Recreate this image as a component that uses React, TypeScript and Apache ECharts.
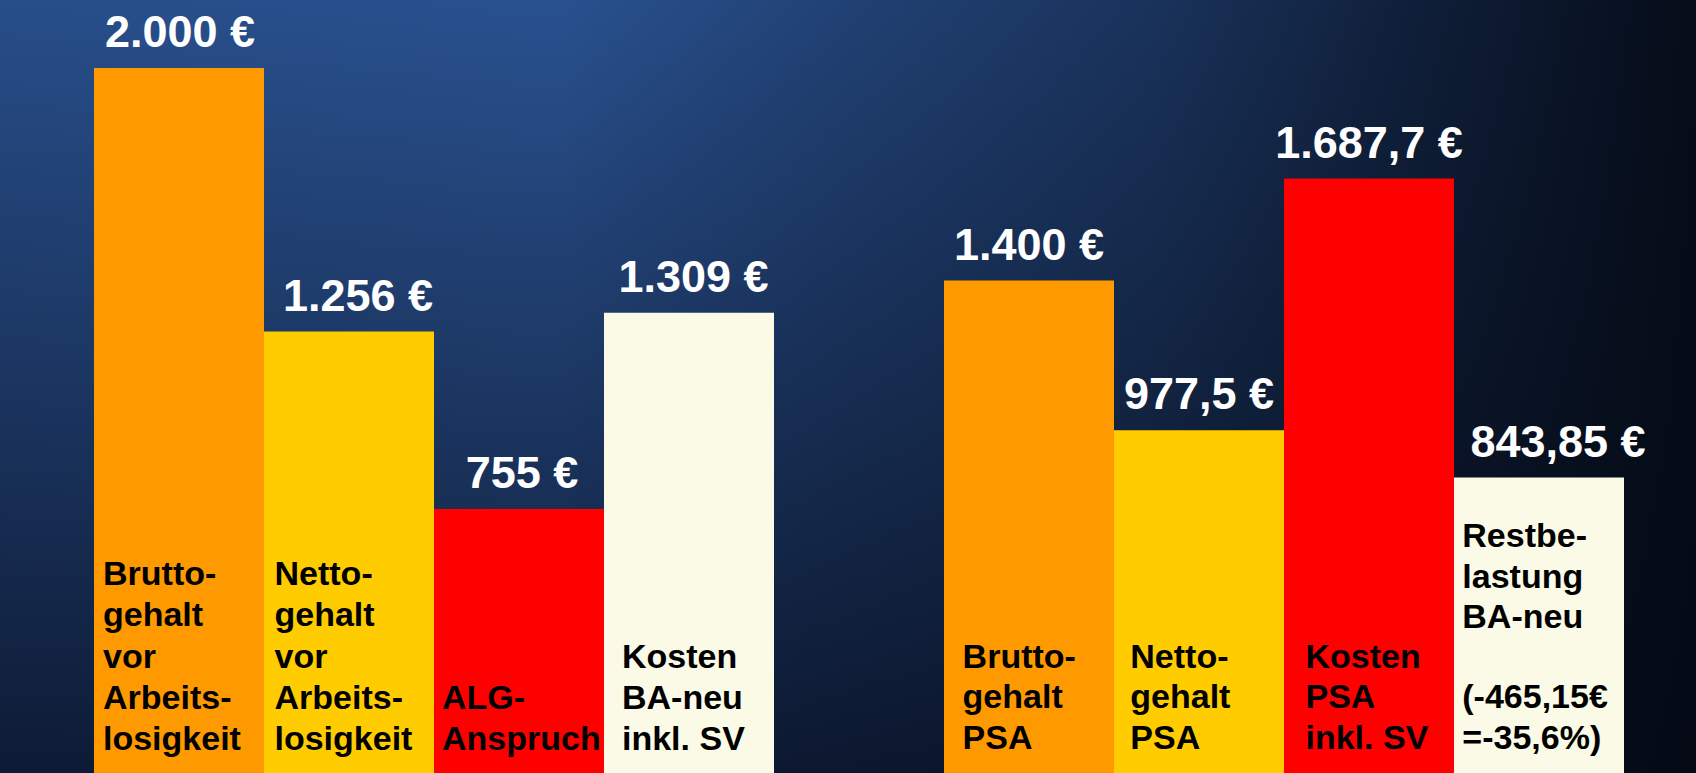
import React, { useEffect, useRef } from "react";
import * as echarts from "echarts";

const categories = [
  "Bruttogehalt vor Arbeitslosigkeit",
  "Nettogehalt vor Arbeitslosigkeit",
  "ALG-Anspruch",
  "Kosten BA-neu inkl. SV",
  "",
  "Bruttogehalt PSA",
  "Nettogehalt PSA",
  "Kosten PSA inkl. SV",
  "Restbelastung BA-neu",
];
const values: (number | null)[] = [2000, 1256, 755, 1309, null, 1400, 977.5, 1687.7, 843.85];
const valueLabels = ["2.000 €", "1.256 €", "755 €", "1.309 €", "", "1.400 €", "977,5 €", "1.687,7 €", "843,85 €"];
const barTexts = [
  "Brutto-\ngehalt\nvor\nArbeits-\nlosigkeit",
  "Netto-\ngehalt\nvor\nArbeits-\nlosigkeit",
  "ALG-\nAnspruch",
  "Kosten\nBA-neu\ninkl. SV",
  "",
  "Brutto-\ngehalt\nPSA",
  "Netto-\ngehalt\nPSA",
  "Kosten\nPSA\ninkl. SV",
  "Restbe-\nlastung\nBA-neu\n\n(-465,15€\n=-35,6%)",
];
const barColors = ["#FF9900", "#FFCC00", "#FF0000", "#FAFAE6", "transparent", "#FF9900", "#FFCC00", "#FF0000", "#FAFAE6"];
const valueLabelShift = [1, 9, 3, 4.5, 0, 0, 0, 0, 19];
const textShiftX = [9, 10.5, 8, 18, 0, 18.6, 16.3, 21.5, 8.3];

const FONT = "'Liberation Sans', Arial, Helvetica, sans-serif";

export default function App() {
  const ref = useRef<HTMLDivElement>(null);
  useEffect(() => {
    document.body.style.margin = "0";
    document.body.style.overflow = "hidden";
    const chart = echarts.init(ref.current!, undefined, { renderer: "svg" });
    const left = categories.map((_, i) => i < 4);
    chart.setOption({
      animation: false,
      backgroundColor: new echarts.graphic.LinearGradient(0, 0, 0, 1, [
        { offset: 0, color: "#29518f" },
        { offset: 0.5, color: "#1c3763" },
        { offset: 1, color: "#0e1b36" },
      ]),
      graphic: [
        {
          type: "rect",
          silent: true,
          z: 0,
          shape: { x: 0, y: 0, width: 1696, height: 777 },
          style: {
            fill: new echarts.graphic.LinearGradient(0, 0, 1, 0, [
              { offset: 0, color: "rgba(4,9,19,0.05)" },
              { offset: 0.33, color: "rgba(4,9,19,0)" },
              { offset: 0.5, color: "rgba(4,9,19,0.22)" },
              { offset: 0.68, color: "rgba(4,9,19,0.42)" },
              { offset: 0.85, color: "rgba(4,9,19,0.72)" },
              { offset: 1, color: "rgba(4,9,19,0.95)" },
            ]),
          },
        },
      ],
      grid: { left: 94, right: 72, top: 68, bottom: 0.6 },
      xAxis: { type: "category", data: categories, show: false },
      yAxis: { type: "value", min: 0, max: 2000, show: false, splitLine: { show: false } },
      series: [
        {
          type: "bar",
          barCategoryGap: "0%",
          barGap: "-100%",
          z: 2,
          data: values.map((v, i) => ({
            value: v,
            itemStyle: { color: barColors[i] },
            label: { offset: [valueLabelShift[i], 0] },
          })),
          label: {
            show: true,
            position: "top",
            distance: 13.8,
            color: "#ffffff",
            fontFamily: FONT,
            fontWeight: "bold",
            fontSize: 45,
            lineHeight: 45,
            formatter: (p: any) => valueLabels[p.dataIndex],
          },
        },
        {
          type: "bar",
          barCategoryGap: "0%",
          barGap: "-100%",
          z: 3,
          data: values.map((v, i) => ({
            value: v,
            itemStyle: { color: "transparent" },
            label: {
              offset: [textShiftX[i], left[i] ? -17.55 : -19.55],
              lineHeight: left[i] ? 41.3 : 40.3,
            },
          })),
          label: {
            show: true,
            position: "insideBottomLeft",
            distance: 0,
            align: "left",
            color: "#000000",
            fontFamily: FONT,
            fontWeight: "bold",
            fontSize: 34,
            formatter: (p: any) => barTexts[p.dataIndex],
          },
        },
      ],
    });
    return () => chart.dispose();
  }, []);
  return (
    <div
      ref={ref}
      style={{ position: "absolute", left: 0, top: 0, width: 1696, height: 777 }}
    />
  );
}
